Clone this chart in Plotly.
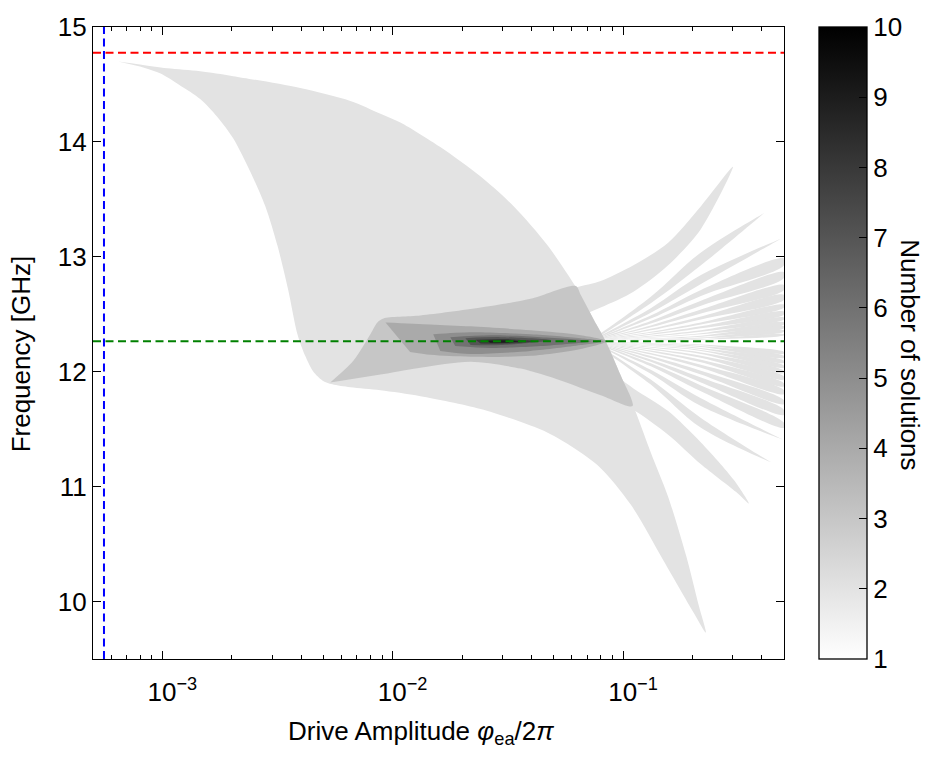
import plotly.graph_objects as go

# ---------------------------------------------------------------
# Regions of the (drive amplitude, frequency) plane with a given
# number of steady-state solutions.  x = drive amplitude phi_ea/2pi,
# y = frequency in GHz.  Each outline is drawn as a filled region.
# ---------------------------------------------------------------

# main sweep region (2 solutions)
sweep_x = [6.43e-4, 8.00e-4, 1.05e-3, 1.46e-3, 2.03e-3, 3.97e-3, 6.55e-3, 8.85e-3, 1.08e-2,
           1.61e-2, 2.41e-2, 3.35e-2, 4.71e-2, 6.55e-2, 7.46e-2, 8.41e-2, 9.78e-2, 0.114,
           0.132, 0.157, 0.188, 0.213, 0.229,
           0.203, 0.150, 0.108, 7.76e-2, 4.71e-2, 2.41e-2, 1.32e-2, 8.85e-3, 6.55e-3,
           5.47e-3, 4.95e-3, 4.52e-3, 4.17e-3, 3.86e-3, 3.52e-3, 3.16e-3, 2.80e-3, 2.41e-3,
           2.03e-3, 1.73e-3, 1.46e-3, 1.19e-3, 9.77e-4, 8.00e-4]
sweep_y = [14.700, 14.674, 14.640, 14.614, 14.572, 14.469, 14.357, 14.246, 14.169,
           13.955, 13.698, 13.440, 13.098, 12.669, 12.455, 12.266, 11.967, 11.641,
           11.298, 10.913, 10.398, 9.970, 9.730,
           9.901, 10.356, 10.844, 11.187, 11.470, 11.675, 11.787, 11.838, 11.864,
           11.890, 11.924, 12.001, 12.138, 12.326, 12.712, 13.098, 13.440, 13.740,
           14.032, 14.220, 14.374, 14.494, 14.597, 14.657]

# upper branch rising to the right (2 solutions outside the sweep)
upper_branch_x = [9.12e-3, 1.32e-2, 2.41e-2, 3.97e-2, 6.36e-2, 8.00e-2, 0.111, 0.157, 0.218, 0.300,
                  0.218, 0.157, 0.111, 8.00e-2, 5.36e-2, 2.94e-2, 1.61e-2, 1.08e-2]
upper_branch_y = [12.464, 12.489, 12.558, 12.635, 12.738, 12.789, 12.926, 13.123, 13.440, 13.783,
                  13.243, 12.926, 12.695, 12.558, 12.429, 12.395, 12.386, 12.412]

# lower branch bending down to the right (2 solutions outside the sweep)
lower_branch_x = [5.36e-2, 8.00e-2, 0.111, 0.157, 0.218, 0.303, 0.352,
                  0.309, 0.218, 0.157, 0.111, 8.00e-2, 5.36e-2, 3.60e-2, 2.18e-2]
lower_branch_y = [12.138, 12.052, 11.855, 11.658, 11.384, 11.058, 10.853,
                  10.955, 11.195, 11.452, 11.667, 11.795, 11.924, 12.027, 12.087]

# fold where both branches overlap the sweep (3 solutions)
fold_x = [5.36e-3, 6.75e-3, 8.00e-3, 8.58e-3, 9.12e-3, 1.32e-2, 2.41e-2, 3.97e-2, 6.24e-2,
          6.55e-2, 7.46e-2, 8.41e-2, 9.78e-2, 0.110, 8.00e-2, 5.36e-2, 3.60e-2, 2.18e-2,
          1.32e-2, 8.85e-3]
fold_y = [11.907, 12.095, 12.326, 12.429, 12.464, 12.489, 12.558, 12.635, 12.746,
          12.669, 12.455, 12.266, 11.967, 11.701, 11.795, 11.924, 12.027, 12.087,
          12.035, 11.975]

# nested core regions around the centre line (4 .. 9 solutions)
core4_x = [9.31e-3, 1.46e-2, 2.18e-2, 3.97e-2, 6.55e-2, 8.49e-2, 6.55e-2, 3.97e-2, 2.18e-2, 1.46e-2, 1.19e-2]
core4_y = [12.429, 12.412, 12.395, 12.361, 12.318, 12.266, 12.198, 12.138, 12.130, 12.147, 12.172]
core5_x = [1.50e-2, 2.18e-2, 3.97e-2, 6.55e-2, 8.24e-2, 6.55e-2, 3.97e-2, 2.18e-2, 1.61e-2]
core5_y = [12.326, 12.344, 12.326, 12.292, 12.266, 12.232, 12.181, 12.155, 12.181]
core6_x = [1.78e-2, 2.66e-2, 4.39e-2, 7.24e-2, 4.39e-2, 2.66e-2, 1.87e-2]
core6_y = [12.301, 12.318, 12.301, 12.266, 12.224, 12.207, 12.224]
core7_x = [2.07e-2, 2.94e-2, 4.85e-2, 2.94e-2, 2.18e-2]
core7_y = [12.292, 12.301, 12.275, 12.232, 12.232]
core8_x = [2.29e-2, 3.09e-2, 4.18e-2, 3.09e-2, 2.41e-2]
core8_y = [12.279, 12.284, 12.266, 12.245, 12.245]
core9_x = [2.53e-2, 3.09e-2, 3.60e-2, 3.09e-2, 2.66e-2]
core9_y = [12.271, 12.273, 12.265, 12.253, 12.253]

# thin fan of branches opening to the right of the sweep
fan_origin = (7.24e-2, 12.266)
fan_near_x = 0.132
fan_mid_x = 0.218
fan_up_end_x = [0.409, 0.485, 0.5, 0.5, 0.5, 0.5, 0.5, 0.5, 0.5, 0.5, 0.5, 0.5, 0.5]
fan_up_end_out = [13.380, 13.158, 12.986, 12.866, 12.755, 12.669, 12.584, 12.524, 12.472, 12.429, 12.395, 12.361, 12.326]
fan_up_end_in = [13.380, 13.158, 12.926, 12.815, 12.712, 12.626, 12.558, 12.498, 12.455, 12.412, 12.378, 12.348, 12.318]
fan_up_mid_out = [13.038, 12.841, 12.712, 12.618, 12.541, 12.481, 12.429, 12.395, 12.361, 12.335, 12.314, 12.297, 12.284]
fan_up_mid_in = [12.926, 12.763, 12.660, 12.575, 12.506, 12.455, 12.412, 12.378, 12.348, 12.326, 12.305, 12.290, 12.278]
fan_up_near_out = [12.652, 12.553, 12.489, 12.442, 12.403, 12.373, 12.347, 12.330, 12.313, 12.300, 12.290, 12.281, 12.275]
fan_up_near_in = [12.596, 12.514, 12.463, 12.420, 12.386, 12.360, 12.339, 12.322, 12.307, 12.296, 12.285, 12.278, 12.272]

fan_dn_end_x = [0.439, 0.495, 0.5, 0.5, 0.5, 0.5, 0.5, 0.5, 0.5, 0.5, 0.5, 0.5, 0.5]
fan_dn_end_out = [11.212, 11.410, 11.512, 11.624, 11.718, 11.804, 11.872, 11.932, 11.988, 12.035, 12.078, 12.121, 12.159]
fan_dn_end_in = [11.212, 11.410, 11.555, 11.667, 11.752, 11.838, 11.898, 11.958, 12.009, 12.052, 12.095, 12.138, 12.172]
fan_dn_mid_out = [11.512, 11.701, 11.830, 11.907, 11.975, 12.035, 12.082, 12.121, 12.155, 12.181, 12.198, 12.215, 12.230]
fan_dn_mid_in = [11.598, 11.769, 11.881, 11.949, 12.009, 12.061, 12.104, 12.138, 12.168, 12.190, 12.207, 12.224, 12.237]
fan_dn_near_out = [11.889, 11.983, 12.047, 12.086, 12.120, 12.150, 12.174, 12.193, 12.210, 12.223, 12.232, 12.240, 12.248]
fan_dn_near_in = [11.932, 12.017, 12.073, 12.107, 12.137, 12.163, 12.185, 12.202, 12.217, 12.228, 12.236, 12.245, 12.251]

# reference levels
upper_ref_freq = 14.775
lower_ref_freq = 12.265
drive_ref = 5.58e-4

x_range = [5e-4, 0.5]
y_range = [9.5, 15.0]
cbar_min, cbar_max = 1, 10
x_major = [1e-3, 1e-2, 1e-1]
x_major_text = ["10<sup>\u22123</sup>", "10<sup>\u22122</sup>", "10<sup>\u22121</sup>"]
y_major = [10, 11, 12, 13, 14, 15]
cbar_ticks = list(range(1, 11))

FONT = "Liberation Sans, Arial, Helvetica, sans-serif"


def gray_for(level):
    g = round(255 * (cbar_max - level) / (cbar_max - cbar_min))
    return f"rgb({g},{g},{g})"


def region(x, y, level, smoothing=0.8):
    return go.Scatter(
        x=x, y=y, mode="lines", fill="toself", fillcolor=gray_for(level),
        line=dict(width=0, shape="spline", smoothing=smoothing),
        hoverinfo="skip", showlegend=False,
    )


def fan_branch(end_x, near_out, mid_out, end_out, end_in, mid_in, near_in):
    x0, y0 = fan_origin
    fx = [x0, fan_near_x, fan_mid_x, end_x, end_x, fan_mid_x, fan_near_x, x0]
    fy = [y0, near_out, mid_out, end_out, end_in, mid_in, near_in, y0]
    return region(fx, fy, 2, smoothing=1.0)


fig = go.Figure()

# 2-solution regions
fig.add_trace(region(sweep_x, sweep_y, 2))
fig.add_trace(region(upper_branch_x, upper_branch_y, 2))
fig.add_trace(region(lower_branch_x, lower_branch_y, 2))

for i in range(len(fan_up_end_x)):
    fig.add_trace(fan_branch(fan_up_end_x[i], fan_up_near_out[i], fan_up_mid_out[i],
                             fan_up_end_out[i], fan_up_end_in[i], fan_up_mid_in[i],
                             fan_up_near_in[i]))
for i in range(len(fan_dn_end_x)):
    fig.add_trace(fan_branch(fan_dn_end_x[i], fan_dn_near_out[i], fan_dn_mid_out[i],
                             fan_dn_end_out[i], fan_dn_end_in[i], fan_dn_mid_in[i],
                             fan_dn_near_in[i]))

# higher solution counts
fig.add_trace(region(fold_x, fold_y, 3))
fig.add_trace(region(core4_x, core4_y, 4))
fig.add_trace(region(core5_x, core5_y, 5))
fig.add_trace(region(core6_x, core6_y, 6))
fig.add_trace(region(core7_x, core7_y, 7))
fig.add_trace(region(core8_x, core8_y, 8))
fig.add_trace(region(core9_x, core9_y, 9))

# dashed reference lines
dash = "8px,4.5px"
fig.add_trace(go.Scatter(x=x_range, y=[upper_ref_freq] * 2, mode="lines",
                         line=dict(color="#ff0000", width=2, dash=dash),
                         hoverinfo="skip", showlegend=False))
fig.add_trace(go.Scatter(x=x_range, y=[lower_ref_freq] * 2, mode="lines",
                         line=dict(color="#008000", width=2, dash=dash),
                         hoverinfo="skip", showlegend=False))
fig.add_trace(go.Scatter(x=[drive_ref] * 2, y=y_range, mode="lines",
                         line=dict(color="#0000ff", width=2, dash=dash),
                         hoverinfo="skip", showlegend=False))

# colour scale for the number of solutions
L, R, T, B = 93, 146, 18, 99
W, H = 930, 758
pw, ph = W - L - R, H - T - B
cbar_left = 819
cbar_x = (cbar_left - L) / pw
cbar_thick = 48

fig.add_trace(go.Scatter(
    x=[1e-5], y=[20], mode="markers",
    marker=dict(
        color=[cbar_min], cmin=cbar_min, cmax=cbar_max,
        colorscale=[[0, "#ffffff"], [1, "#000000"]], showscale=True, size=1,
        colorbar=dict(
            x=cbar_x, xanchor="left", xpad=0, y=0.5, yanchor="middle", ypad=0,
            len=1, lenmode="fraction", thickness=cbar_thick, thicknessmode="pixels",
            outlinewidth=1.3, outlinecolor="black",
            tickmode="array", tickvals=cbar_ticks, ticks="inside", ticklen=8,
            tickcolor="black", tickwidth=1,
            tickfont=dict(family=FONT, size=26, color="black"),
        ),
    ),
    hoverinfo="skip", showlegend=False,
))

shapes = []
for v in cbar_ticks[1:-1]:
    yy = (v - cbar_min) / (cbar_max - cbar_min)
    shapes.append(dict(type="line", xref="paper", yref="paper",
                       x0=cbar_x, x1=cbar_x + 8 / pw, y0=yy, y1=yy,
                       line=dict(color="black", width=1)))

minor_vals = [m * 10 ** e for e in range(-4, 0) for m in range(2, 10)
              if x_range[0] <= m * 10 ** e <= x_range[1]]

fig.update_layout(
    width=W, height=H,
    margin=dict(l=L, r=R, t=T, b=B, pad=0),
    paper_bgcolor="white", plot_bgcolor="white",
    font=dict(family=FONT, size=26, color="black"),
    shapes=shapes,
    xaxis=dict(
        type="log", range=[-3.30103, -0.30103],
        showline=True, linecolor="black", linewidth=1.3, mirror="ticks",
        ticks="inside", ticklen=8, tickwidth=1, tickcolor="black",
        tickmode="array", tickvals=x_major, ticktext=x_major_text,
        tickfont=dict(family=FONT, size=26), ticklabelstandoff=10, ticklabelshift=10,
        minor=dict(ticks="inside", ticklen=4, tickwidth=1, tickcolor="black",
                   tickmode="array", tickvals=minor_vals, showgrid=False),
        showgrid=False, zeroline=False,
    ),
    yaxis=dict(
        range=y_range,
        showline=True, linecolor="black", linewidth=1.3, mirror="ticks",
        ticks="inside", ticklen=8, tickwidth=1, tickcolor="black",
        tickmode="array", tickvals=y_major,
        tickfont=dict(family=FONT, size=26), ticklabelstandoff=0,
        showgrid=False, zeroline=False,
    ),
    annotations=[
        dict(text="Frequency [GHz]", textangle=-90, xref="paper", yref="paper",
             x=(21 - L) / pw, y=(H - B - 350) / ph, showarrow=False,
             xanchor="center", yanchor="middle", font=dict(family=FONT, size=26)),
        dict(text="Drive Amplitude <i>\u03c6</i><sub>ea</sub>/2<i>\u03c0</i>",
             xref="paper", yref="paper",
             x=(421 - L) / pw, y=(H - B - 734) / ph, showarrow=False,
             xanchor="center", yanchor="middle", font=dict(family=FONT, size=26)),
        dict(text="Number of solutions", textangle=90, xref="paper", yref="paper",
             x=(910 - L) / pw, y=(H - B - 350) / ph, showarrow=False,
             xanchor="center", yanchor="middle", font=dict(family=FONT, size=26)),
    ],
)

fig.write_html("out.html")
